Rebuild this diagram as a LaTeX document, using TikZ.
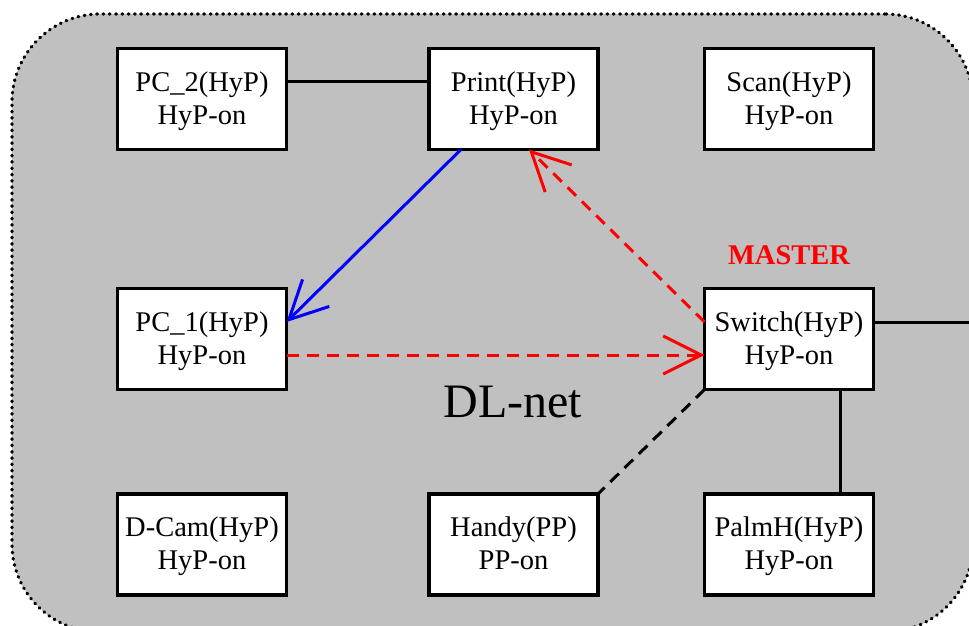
\documentclass[tikz,border=0pt]{standalone}
\usepackage{fontspec}
\setmainfont{Liberation Serif}
\usetikzlibrary{arrows.meta,calc}
\definecolor{netgray}{RGB}{192,192,192}
\newcommand\devtext[2]{\rule{0pt}{27pt}#1\strut\\#2\strut}
\tikzset{
  dev/.style={draw=black, line width=3.2pt, fill=white, minimum width=169pt, minimum height=101pt,
    align=center, inner sep=0pt, outer sep=0pt, font=\fontsize{28.5}{33}\selectfont},
  conn/.style={line width=3pt},
  dashline/.style={line width=3pt, dash pattern=on 12pt off 8pt},
  barb/.style={-{Straight Barb[length=38pt,width=38pt]}},
}
\begin{document}
\begin{tikzpicture}[x=1pt,y=-1pt]
\useasboundingbox (0,0) rectangle (969,626);
\clip (0,0) rectangle (969,626);
% network area
\node[draw=black, fill=netgray, line width=3.2pt, dash pattern=on 0.8pt off 5.5pt, line cap=round,
  rounded corners=88pt, minimum width=961pt, minimum height=618pt, inner sep=0pt] (area) at (492.5,323) {};
% devices
\node[dev] (pc2) at (202,99) {\devtext{PC\_2(HyP)}{HyP-on}};
\node[dev] (print) at (513.5,99) {\devtext{Print(HyP)}{HyP-on}};
\node[dev] (scan) at (789,99) {\devtext{Scan(HyP)}{HyP-on}};
\node[dev] (pc1) at (202,339) {\devtext{PC\_1(HyP)}{HyP-on}};
\node[dev] (switch) at (789,339) {\devtext{Switch(HyP)}{HyP-on}};
\node[dev] (dcam) at (202,544.5) {\devtext{D-Cam(HyP)}{HyP-on}};
\node[dev] (handy) at (513.5,544.5) {\devtext{Handy(PP)}{PP-on}};
\node[dev] (palmh) at (789,544.5) {\devtext{PalmH(HyP)}{HyP-on}};
% labels
\node[anchor=base, text=red, font=\fontsize{28.5}{30}\selectfont\bfseries] (master) at (789,264) {MASTER};
\node[anchor=base, font=\fontsize{48}{52}\selectfont] (dlnet) at (513,417) {DL-net};
\coordinate (edge) at (975,322);
% connectors
\draw[conn] ([yshift=18pt]pc2.east) -- ([yshift=18pt]print.west);
\draw[conn, blue, barb] ([xshift=-52.5pt]print.south) -- ([yshift=17pt]pc1.east);
\draw[dashline, red, barb] ([yshift=17pt]switch.west) -- ([xshift=15.5pt]print.south);
\draw[dashline, red, barb] ([yshift=-16pt]pc1.east) -- ([yshift=-16pt]switch.west);
\draw[dashline, black] (switch.south west) -- (handy.north east);
\draw[conn] ([xshift=51pt]switch.south) -- ([xshift=51pt]palmh.north);
\draw[conn] ([yshift=17pt]switch.east) -- (edge);
\end{tikzpicture}
\end{document}
